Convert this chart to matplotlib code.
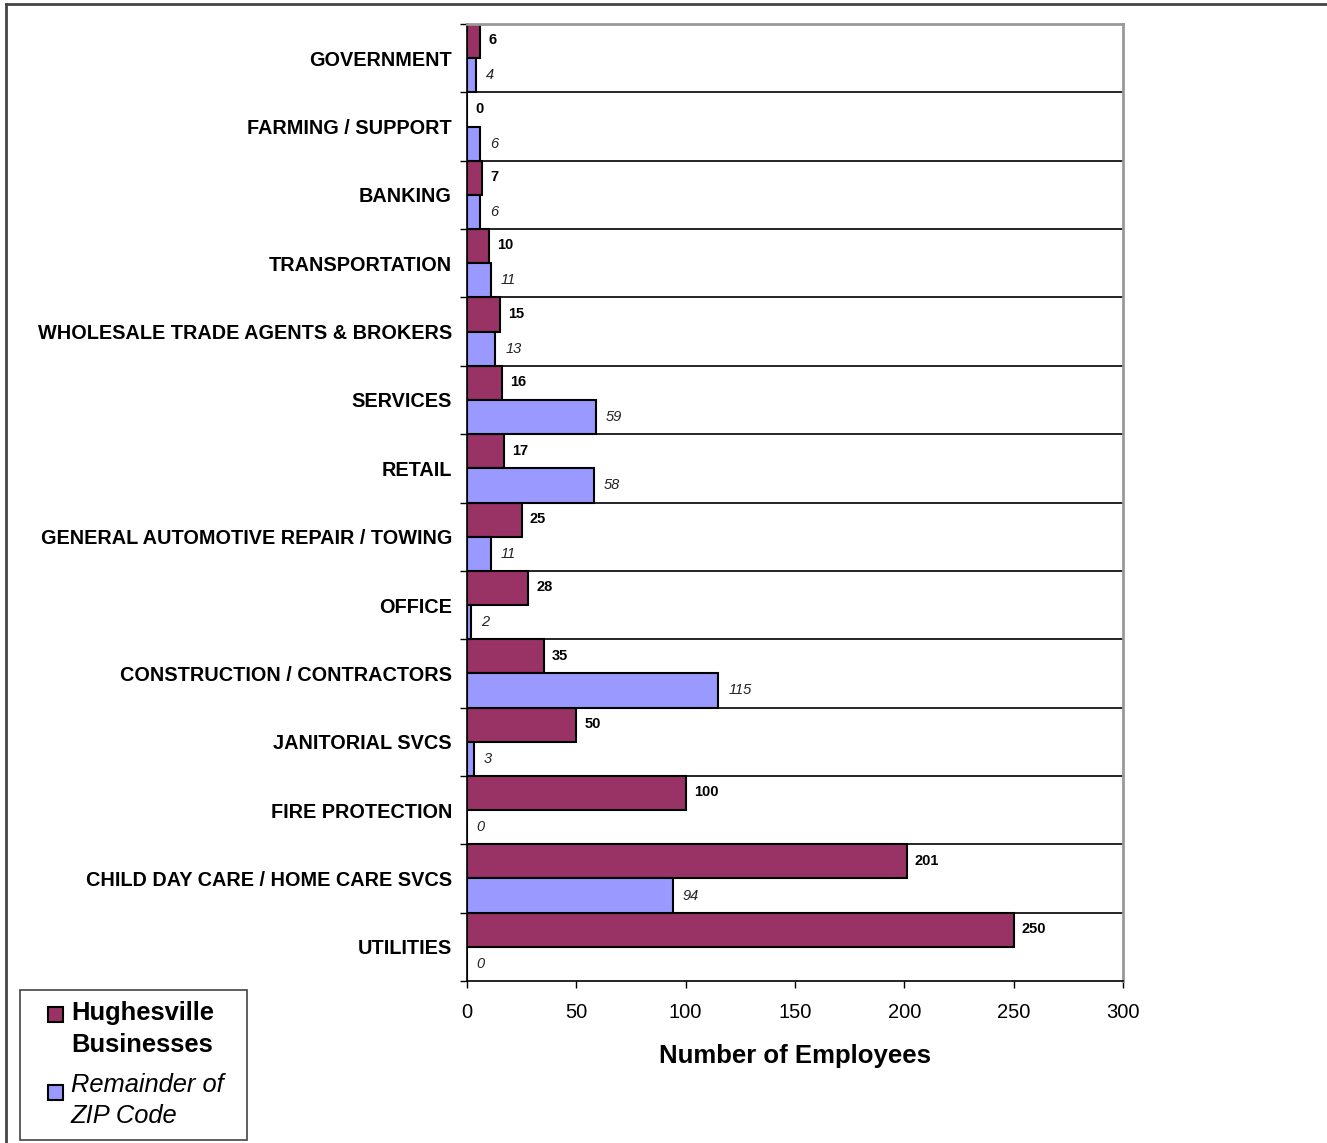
import matplotlib.pyplot as plt
import numpy as np
from matplotlib.patches import Rectangle
from matplotlib.lines import Line2D

plt.rcParams['font.family'] = ['Liberation Sans', 'DejaVu Sans']

categories = ['GOVERNMENT', 'FARMING / SUPPORT', 'BANKING', 'TRANSPORTATION',
              'WHOLESALE TRADE AGENTS & BROKERS', 'SERVICES', 'RETAIL',
              'GENERAL AUTOMOTIVE REPAIR / TOWING', 'OFFICE',
              'CONSTRUCTION / CONTRACTORS', 'JANITORIAL SVCS', 'FIRE PROTECTION',
              'CHILD DAY CARE / HOME CARE SVCS', 'UTILITIES']
hughesville = [6, 0, 7, 10, 15, 16, 17, 25, 28, 35, 50, 100, 201, 250]
remainder = [4, 6, 6, 11, 13, 59, 58, 11, 2, 115, 3, 0, 94, 0]
xticks = [0, 50, 100, 150, 200, 250, 300]

maroon = '#993366'
blue = '#9999FF'

W, H = 1327, 1143
fig = plt.figure(figsize=(W / 100, H / 100), dpi=100)
ax = fig.add_axes([467 / W, 1 - 981 / H, (1123 - 467) / W, (981 - 24) / H])

y = np.arange(len(categories))
ax.barh(y - 0.25, hughesville, height=0.5, color=maroon, edgecolor='black', linewidth=1.5)
ax.barh(y + 0.25, remainder, height=0.5, color=blue, edgecolor='black', linewidth=1.5)

for i in range(len(categories)):
    ax.text(hughesville[i] + 3.7, y[i] - 0.26, str(hughesville[i]), fontsize=10.5,
            fontweight='bold', va='center', ha='left')
    ax.text(remainder[i] + 4.5, y[i] + 0.25, str(remainder[i]), fontsize=10.5,
            fontstyle='italic', va='center', ha='left', color='#222222')

ax.set_xlim(0, 300)
ax.set_ylim(len(categories) - 0.5, -0.5)

# boundaries between categories
bounds = np.arange(len(categories) + 1) - 0.5
for b in bounds[1:-1]:
    ax.axhline(b, color='black', linewidth=1.2, zorder=0.5)
ax.set_yticks(bounds)
ax.set_yticklabels([])
ax.tick_params(axis='y', which='major', length=5, width=1, direction='out')
ax.set_yticks(y, minor=True)
ax.set_yticklabels(categories, minor=True, fontsize=14.3, fontweight='bold')
ax.tick_params(axis='y', which='minor', length=0, pad=10.8)

ax.set_xticks(xticks)
ax.set_xticklabels([str(t) for t in xticks], fontsize=14.5)
ax.tick_params(axis='x', length=5, width=1, direction='out', pad=10.5)
ax.set_xlabel('Number of Employees', fontsize=18.5, fontweight='bold', labelpad=16)

ax.spines['top'].set_color('#999999')
ax.spines['right'].set_color('#999999')
ax.spines['top'].set_linewidth(2)
ax.spines['right'].set_linewidth(2)
ax.spines['left'].set_linewidth(1.2)
ax.spines['bottom'].set_linewidth(1.2)

# legend box drawn by hand so the keys sit beside the first line of each label
def px(x0, y0):
    return x0 / W, 1 - y0 / H

fig.add_artist(Rectangle(px(20, 1140), 227 / W, 150 / H, transform=fig.transFigure,
                         facecolor='white', edgecolor='#444444', linewidth=1.2))
fig.add_artist(Rectangle(px(48, 1022), 15 / W, 15 / H, transform=fig.transFigure,
                         facecolor=maroon, edgecolor='black', linewidth=1.5))
fig.add_artist(Rectangle(px(48, 1100), 15 / W, 15 / H, transform=fig.transFigure,
                         facecolor=blue, edgecolor='black', linewidth=1.5))
for line, base in [('Hughesville', 1020), ('Businesses', 1052)]:
    fig.text(*px(71, base), line, fontsize=18.4, fontweight='bold', va='baseline')
for line, base in [('Remainder of', 1092), ('ZIP Code', 1123)]:
    fig.text(*px(71, base), line, fontsize=18.4, fontstyle='italic', va='baseline')

# outer frame lines
fig.add_artist(Line2D([6 / W, 6 / W], [0, 1 - 4 / H], transform=fig.transFigure,
                      color='#444444', linewidth=2))
fig.add_artist(Line2D([6 / W, 1], [1 - 4 / H, 1 - 4 / H], transform=fig.transFigure,
                      color='#444444', linewidth=2))

fig.savefig('out.png', dpi=100)
